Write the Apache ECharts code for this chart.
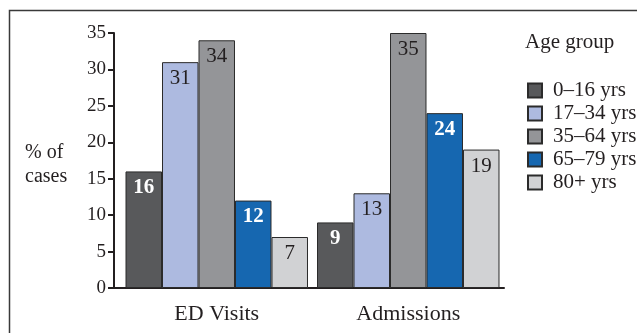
<!DOCTYPE html>
<html>
<head>
<meta charset="utf-8">
<script src="https://cdn.jsdelivr.net/npm/echarts@6/dist/echarts.min.js"></script>
<style>
  html, body { margin: 0; padding: 0; background: #fff; }
  #chart { width: 637px; height: 333px; }
</style>
</head>
<body>
<div id="chart"></div>
<script>
var categories = ['ED Visits', 'Admissions'];
var groups = ['0\u201316 yrs', '17\u201334 yrs', '35\u201364 yrs', '65\u201379 yrs', '80+ yrs'];
var age0to16 = [16, 9];
var age17to34 = [31, 13];
var age35to64 = [34, 35];
var age65to79 = [12, 24];
var age80plus = [7, 19];
var yTicks = [0, 5, 10, 15, 20, 25, 30, 35];

var colors = ['#58595b', '#adbae0', '#949598', '#1667b0', '#d1d2d4'];
var values = [age0to16, age17to34, age35to64, age65to79, age80plus];
var whiteLabel = [true, false, false, true, false];

var serif = '"Liberation Serif", "DejaVu Serif", serif';
var ink = '#231f20';

var series = [];
for (var i = 0; i < groups.length; i++) {
    series.push({
        name: groups[i],
        type: 'bar',
        data: values[i],
        barGap: '0%',
        barCategoryGap: '4.7%',
        itemStyle: {
            color: colors[i],
            borderColor: '#2b2b2b',
            borderWidth: 1
        },
        label: {
            show: true,
            position: 'insideTop',
            distance: 6,
            fontFamily: serif,
            fontSize: 21,
            fontWeight: whiteLabel[i] ? 'bold' : 'normal',
            color: whiteLabel[i] ? '#ffffff' : ink
        }
    });
}

var myChart = echarts.init(document.getElementById('chart'));

var option = {
    animation: false,
    textStyle: { fontFamily: serif },
    title: {
        text: 'Age group',
        left: 520,
        top: 27,
        textStyle: { fontFamily: serif, fontSize: 21, fontWeight: 'normal', color: ink }
    },
    legend: {
        data: groups,
        orient: 'vertical',
        left: 522,
        top: 74,
        itemWidth: 14,
        itemHeight: 14,
        itemGap: 0,
        icon: 'rect',
        textStyle: { fontFamily: serif, fontSize: 21, lineHeight: 23, color: ink, padding: [0, 0, 0, 6] }
    },
    grid: {
        left: 121,
        right: 133,
        top: 33,
        bottom: 45
    },
    xAxis: {
        type: 'category',
        data: categories,
        axisLine: { lineStyle: { color: ink, width: 2 } },
        axisTick: {
            inside: true,
            length: 6,
            interval: function (index) { return index !== 0; },
            lineStyle: { color: ink, width: 2 }
        },
        axisLabel: { margin: 15, fontFamily: serif, fontSize: 22, color: ink }
    },
    yAxis: {
        type: 'value',
        min: yTicks[0],
        max: yTicks[yTicks.length - 1],
        interval: 5,
        offset: 7,
        splitLine: { show: false },
        axisLine: { show: true, lineStyle: { color: ink, width: 2 } },
        axisTick: { show: true, length: 6, lineStyle: { color: ink, width: 2 } },
        axisLabel: { margin: 8, padding: [6, 0, 0, 0], fontFamily: serif, fontSize: 19, color: ink }
    },
    graphic: [
        {
            type: 'rect',
            shape: { x: 9.5, y: 10.5, width: 640, height: 340 },
            style: { fill: 'none', stroke: '#3a3a3a', lineWidth: 1.5 },
            silent: true
        },
        {
            type: 'line',
            shape: { x1: 113, y1: 288, x2: 122, y2: 288 },
            style: { stroke: ink, lineWidth: 2 },
            silent: true
        },
        {
            type: 'text',
            left: 25,
            top: 141,
            style: {
                text: '% of\ncases',
                font: '20px ' + serif,
                lineHeight: 24,
                fill: ink
            }
        }
    ],
    series: series
};

myChart.setOption(option);
</script>
</body>
</html>
